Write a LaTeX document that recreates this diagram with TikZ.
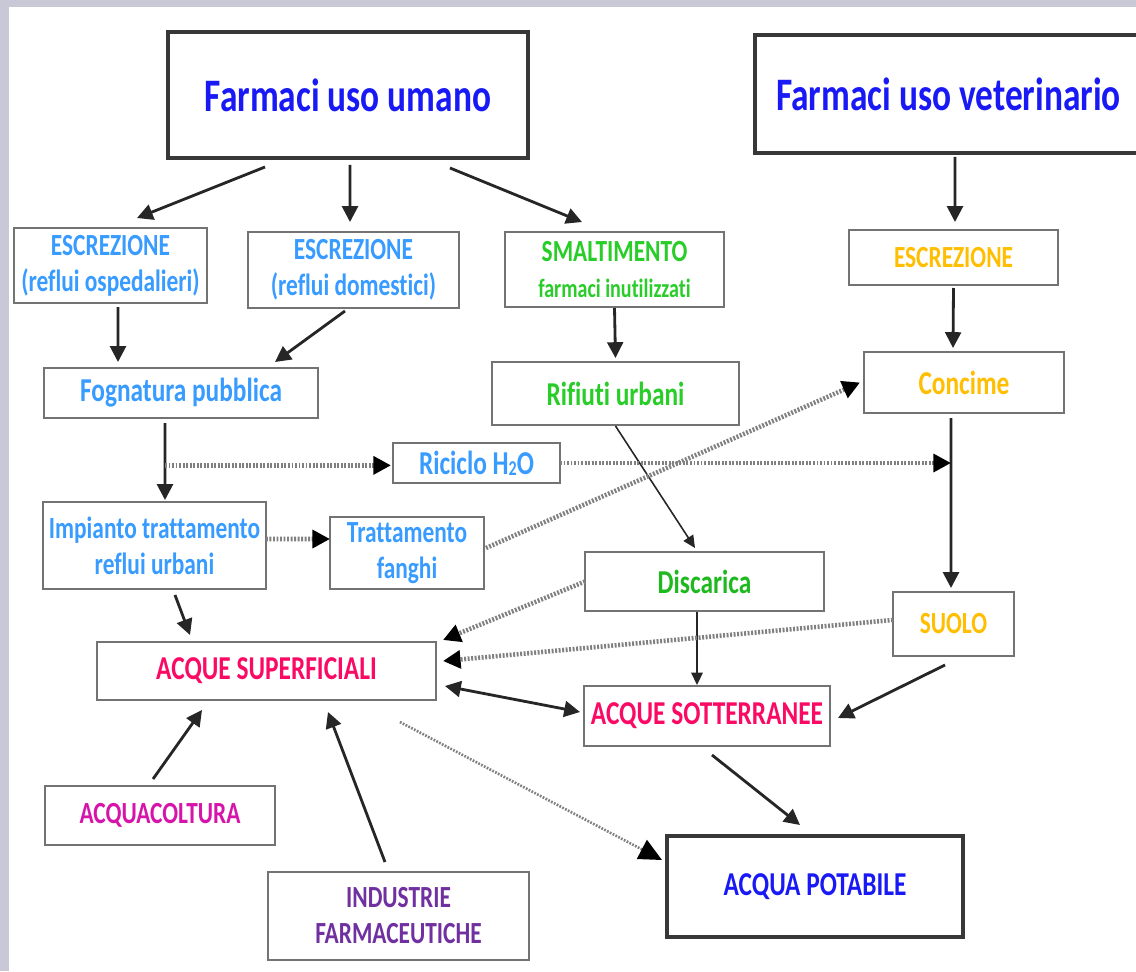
\documentclass[tikz,border=0pt]{standalone}
\usepackage{fontspec}
\setmainfont{Carlito}[FakeStretch=0.76, Ligatures=NoCommon]
\usetikzlibrary{arrows.meta, calc}

\definecolor{cTitle}{RGB}{25,25,245}
\definecolor{cLight}{RGB}{55,155,255}
\definecolor{cGreen}{RGB}{40,205,40}
\definecolor{cGreenDark}{RGB}{30,185,30}
\definecolor{cOrange}{RGB}{255,190,0}
\definecolor{cPink}{RGB}{250,10,100}
\definecolor{cMagenta}{RGB}{215,20,170}
\definecolor{cPurple}{RGB}{112,48,160}
\definecolor{cFrame}{RGB}{200,200,214}

\begin{document}
\begin{tikzpicture}[
  x=0.02cm, y=-0.02cm,
  font=\bfseries,
  box/.style={
    draw=black!55, line width=1.3pt, fill=white,
    inner sep=1pt, outer sep=0pt, align=center
  },
  boxMain/.style={box, draw=black!78, line width=1.8pt},
  txtBig/.style={font=\fontsize{26.5}{30}\selectfont\bfseries},
  txtMid/.style={font=\fontsize{19}{23}\selectfont\bfseries},
  txtSmall/.style={font=\fontsize{17.5}{20.5}\selectfont\bfseries},
  flow/.style={draw=black!85, line width=1.6pt, -{Triangle[length=9pt, width=9pt]}},
  flowThin/.style={draw=black!85, line width=0.9pt, -{Triangle[length=7pt, width=6.5pt]}},
  flowBoth/.style={draw=black!85, line width=1.6pt,
    {Triangle[length=9pt, width=9pt]}-{Triangle[length=9pt, width=9pt]}},
  dotFlow/.style={
    draw=black!50, line width=2.6pt, dash pattern=on 1.1pt off 0.9pt,
    -{Triangle[length=10pt, width=10pt, color=black]}
  },
  dotFlowThin/.style={
    draw=black!50, line width=1.5pt, dash pattern=on 1pt off 0.8pt,
    -{Triangle[length=13pt, width=12pt, color=black]}
  }
]
\useasboundingbox (0,0) rectangle (1136,971);
\clip (0,0) rectangle (1136,971);
\fill[cFrame] (0,0) rectangle (1136,971);
\fill[white] (9,7) rectangle (1136,971);

\node[boxMain, txtBig, text=cTitle, minimum width=7.2cm, minimum height=2.52cm] (umano) at (348,95) {Farmaci uso umano};
\node[boxMain, txtBig, text=cTitle, minimum width=7.74cm, minimum height=2.36cm] (veterinario) at (948.5,94) {Farmaci uso veterinario};

\node[box, txtSmall, text=cLight, minimum width=3.86cm, minimum height=1.5cm] (escrOsp) at (110.5,265.5) {ESCREZIONE\\(reflui ospedalieri)};
\node[box, txtSmall, text=cLight, minimum width=4.22cm, minimum height=1.52cm] (escrDom) at (353.5,270) {ESCREZIONE\\(reflui domestici)};
\node[box, txtSmall, text=cGreen, minimum width=4.38cm, minimum height=1.5cm] (smalt) at (614.5,269.5) {SMALTIMENTO\\{\fontsize{15}{17}\selectfont farmaci inutilizzati}};
\node[box, txtSmall, text=cOrange, minimum width=4.18cm, minimum height=1.1cm] (escrVet) at (953.5,257.5) {ESCREZIONE};

\node[box, txtMid, text=cLight, minimum width=5.48cm, minimum height=1cm] (fogn) at (181,393) {Fognatura pubblica};
\node[box, txtMid, text=cGreen, minimum width=4.94cm, minimum height=1.26cm] (rifiuti) at (615.5,393.5) {Rifiuti urbani};
\node[box, txtMid, text=cOrange, minimum width=4cm, minimum height=1.22cm] (concime) at (964,382.5) {Concime};
\node[box, txtMid, text=cLight, minimum width=3.34cm, minimum height=0.8cm] (riciclo) at (476.5,463) {Riciclo H{\fontsize{12}{12}\selectfont\raisebox{-0.5pt}{2}}O};

\node[box, txtSmall, text=cLight, minimum width=4.46cm, minimum height=1.74cm] (impianto) at (154.5,545.5) {Impianto trattamento\\reflui urbani};
\node[box, txtSmall, text=cLight, minimum width=3.08cm, minimum height=1.44cm] (tratt) at (407,553) {Trattamento\\fanghi};
\node[box, txtMid, text=cGreenDark, minimum width=4.78cm, minimum height=1.18cm] (discarica) at (704.5,581.5) {Discarica};
\node[box, txtSmall, text=cOrange, minimum width=2.42cm, minimum height=1.28cm] (suolo) at (953.5,624) {SUOLO};

\node[box, txtMid, text=cPink, minimum width=6.78cm, minimum height=1.16cm] (superf) at (266.5,671) {ACQUE SUPERFICIALI};
\node[box, txtMid, text=cPink, inner sep=0pt, minimum width=4.92cm, minimum height=1.2cm] (sotterr) at (707,716) {ACQUE SOTTERRANEE};
\node[box, txtSmall, text=cMagenta, minimum width=4.6cm, minimum height=1.18cm] (acquacolt) at (160,815.5) {ACQUACOLTURA};
\node[box, txtSmall, text=cPurple, minimum width=5.22cm, minimum height=1.76cm] (industrie) at (398.5,916) {INDUSTRIE\\FARMACEUTICHE};
\node[boxMain, txtMid, text=cTitle, minimum width=5.92cm, minimum height=2.02cm] (potabile) at (815,886.5) {ACQUA POTABILE};

\draw[flow] ([xshift=-1.66cm, yshift=-0.18cm]umano.south) -- ([xshift=0.53cm, yshift=0.2cm]escrOsp.north);
\draw[flow] ([xshift=0.04cm, yshift=-0.14cm]umano.south) -- ([xshift=-0.07cm, yshift=0.2cm]escrDom.north);
\draw[flow] ([xshift=2.04cm, yshift=-0.2cm]umano.south) -- ([xshift=-0.65cm, yshift=0.2cm]smalt.north);
\draw[flow] ([xshift=0.13cm, yshift=-0.08cm]veterinario.south) -- ([xshift=0.03cm, yshift=0.16cm]escrVet.north);

\draw[flow] ([xshift=0.15cm, yshift=-0.08cm]escrOsp.south) -- ([xshift=-1.26cm, yshift=0.12cm]fogn.north);
\draw[flow] ([xshift=-0.17cm, yshift=-0.06cm]escrDom.south) -- ([xshift=1.88cm, yshift=0.12cm]fogn.north);
\draw[flow] ([yshift=-0.02cm]smalt.south) -- ([yshift=0.08cm]rifiuti.north);
\draw[flow] ([yshift=-0.06cm]escrVet.south) -- ([xshift=-0.22cm, yshift=0.08cm]concime.north);

\draw[flow] ([xshift=-0.32cm, yshift=-0.1cm]fogn.south) -- ([xshift=0.21cm, yshift=0.04cm]impianto.north)
  coordinate[pos=0.55] (fognJoin);
\draw[flowThin] ([yshift=-0.02cm]rifiuti.south) -- ([xshift=-0.19cm, yshift=0.08cm]discarica.north);
\draw[flow] ([xshift=-0.26cm, yshift=-0.1cm]concime.south) -- ([xshift=-0.05cm, yshift=0.08cm]suolo.north)
  coordinate[pos=0.28] (soilJoin);

\draw[flow] ([xshift=0.41cm, yshift=-0.12cm]impianto.south) -- ([xshift=-1.53cm, yshift=0.14cm]superf.north);
\draw[flowThin] ([xshift=-0.15cm, yshift=-0.02cm]discarica.south) -- ([xshift=-0.2cm, yshift=0.02cm]sotterr.north);
\draw[flow] ([xshift=-0.17cm, yshift=-0.18cm]suolo.south) -- ([xshift=0.16cm, yshift=-0.04cm]sotterr.east);
\draw[flowBoth] ([xshift=0.18cm, yshift=-0.3cm]superf.east) -- ([xshift=-0.08cm, yshift=0.08cm]sotterr.west);
\draw[flow] ([xshift=0.1cm, yshift=-0.18cm]sotterr.south) -- ([xshift=-0.3cm, yshift=0.22cm]potabile.north);
\draw[flow] ([xshift=-0.14cm, yshift=0.14cm]acquacolt.north) -- ([xshift=-1.29cm, yshift=-0.2cm]superf.south);
\draw[flow] ([xshift=-0.27cm, yshift=0.2cm]industrie.north) -- ([xshift=1.23cm, yshift=-0.24cm]superf.south);

\draw[dotFlow] (fognJoin) -- ([xshift=-0.04cm]fognJoin -| riciclo.west);
\draw[dotFlow] (riciclo.east) -- (riciclo.east -| soilJoin);
\draw[dotFlow] ([yshift=0.13cm]impianto.east) -- ([yshift=0.28cm]tratt.west);
\draw[dotFlow] ([xshift=0.04cm, yshift=0.1cm]tratt.east) -- ([xshift=-0.08cm]concime.west);
\draw[dotFlow] (discarica.west) -- ([xshift=0.14cm, yshift=0.04cm]superf.north east);
\draw[dotFlow] ([yshift=0.08cm]suolo.west) -- ([xshift=0.14cm, yshift=0.2cm]superf.east);
\draw[dotFlowThin] ([xshift=-0.72cm, yshift=-0.44cm]superf.south east) -- ([xshift=-0.1cm, yshift=0.53cm]potabile.west);
\end{tikzpicture}
\end{document}
